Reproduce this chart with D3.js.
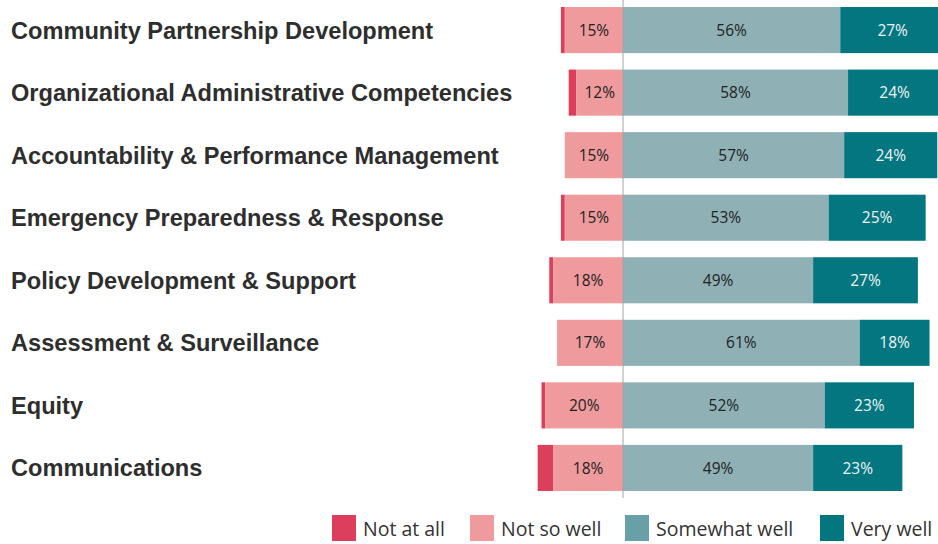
<!DOCTYPE html>
<html>
<head>
<meta charset="utf-8">
<script src="https://cdn.jsdelivr.net/npm/d3@7"></script>
<style>
  html, body { margin: 0; padding: 0; background: #fff; }
  svg { display: block; }
</style>
</head>
<body>
<div id="chart"></div>
<script>
  // data
  var categories = [
    "Community Partnership Development",
    "Organizational Administrative Competencies",
    "Accountability & Performance Management",
    "Emergency Preparedness & Response",
    "Policy Development & Support",
    "Assessment & Surveillance",
    "Equity",
    "Communications"
  ];
  var notAtAll     = [1, 2, 0, 1, 1, 0, 1, 4];
  var notSoWell    = [15, 12, 15, 15, 18, 17, 20, 18];
  var somewhatWell = [56, 58, 57, 53, 49, 61, 52, 49];
  var veryWell     = [27, 24, 24, 25, 27, 18, 23, 23];
  var seriesNames  = ["Not at all", "Not so well", "Somewhat well", "Very well"];

  var width = 938;
  var height = 544;

  var colors = ["#db3f5b", "#ef9b9e", "#8fb1b6", "#037680"];
  var legendColors = ["#db3f5b", "#ef9b9e", "#67a0a7", "#037680"];

  var svg = d3.select("#chart")
    .append("svg")
    .attr("width", width)
    .attr("height", height);

  var x = d3.scaleLinear().domain([-25, 80]).range([623 - 25 * 3.88, 623 + 80 * 3.88]);
  var y = d3.scaleBand()
    .domain(categories)
    .range([-1.2, 499.2])
    .paddingInner(0.263)
    .paddingOuter(0.1315);

  var rows = categories.map(function (c, i) {
    return {
      cat: c,
      segs: [
        { k: 0, x0: -notAtAll[i] - notSoWell[i], x1: -notSoWell[i], v: notAtAll[i] },
        { k: 1, x0: -notSoWell[i], x1: 0, v: notSoWell[i] },
        { k: 2, x0: 0, x1: somewhatWell[i], v: somewhatWell[i] },
        { k: 3, x0: somewhatWell[i], x1: somewhatWell[i] + veryWell[i], v: veryWell[i] }
      ]
    };
  });

  var row = svg.selectAll(".row")
    .data(rows)
    .enter()
    .append("g")
    .attr("class", "row")
    .attr("transform", function (d) { return "translate(0," + y(d.cat) + ")"; });

  row.selectAll("rect")
    .data(function (d) { return d.segs.filter(function (s) { return s.v > 0; }); })
    .enter()
    .append("rect")
    .attr("x", function (d) { return x(d.x0); })
    .attr("width", function (d) { return x(d.x1) - x(d.x0); })
    .attr("y", 0)
    .attr("height", y.bandwidth())
    .style("fill", function (d) { return colors[d.k]; });

  // value labels (not on "Not at all")
  row.selectAll("text.val")
    .data(function (d) { return d.segs.filter(function (s) { return s.k > 0; }); })
    .enter()
    .append("text")
    .attr("class", "val")
    .attr("x", function (d) { return (x(d.x0) + x(d.x1)) / 2; })
    .attr("y", y.bandwidth() / 2)
    .attr("dy", "0.36em")
    .attr("text-anchor", "middle")
    .style("font-family", "'Open Sans', sans-serif")
    .style("font-size", "15.5px")
    .style("fill", function (d) { return d.k === 3 ? "#eef4f4" : "#222"; })
    .text(function (d) { return d.v + "%"; });

  // category labels
  row.append("text")
    .attr("x", 11)
    .attr("y", y.bandwidth() / 2)
    .attr("dy", "0.36em")
    .style("font-family", "'Liberation Sans', Arial, sans-serif")
    .style("font-weight", "bold")
    .style("font-size", "23.6px")
    .style("fill", "#2e2e2e")
    .text(function (d) { return d.cat; });

  // center line
  svg.append("line")
    .attr("x1", x(0)).attr("x2", x(0))
    .attr("y1", 0).attr("y2", 498)
    .style("stroke", "#a3a3a3")
    .style("stroke-width", 1);

  // legend
  var legendX = [332, 470, 625, 820];
  var legend = svg.selectAll(".legend")
    .data(seriesNames)
    .enter()
    .append("g")
    .attr("class", "legend")
    .attr("transform", function (d, i) { return "translate(" + legendX[i] + ",515)"; });

  legend.append("rect")
    .attr("width", 24)
    .attr("height", 26)
    .style("fill", function (d, i) { return legendColors[i]; });

  legend.append("text")
    .attr("x", 31)
    .attr("y", 21)
    .style("font-family", "'Open Sans', sans-serif")
    .style("font-size", "19.5px")
    .style("fill", "#333")
    .text(function (d) { return d; });
</script>
</body>
</html>
